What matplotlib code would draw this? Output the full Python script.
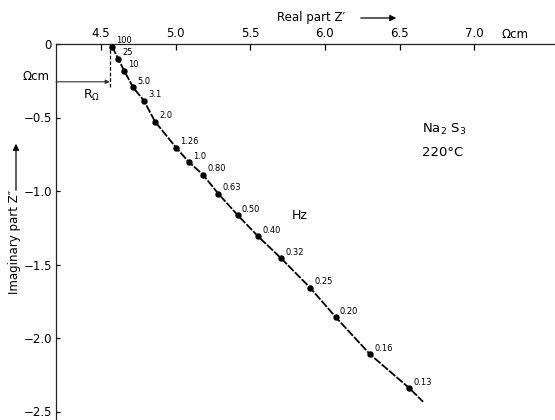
import matplotlib
matplotlib.use("Agg")
import matplotlib.pyplot as plt

# impedance points (Z' and Z'' in Ohm cm)
freq_labels = ["100", "25", "10", "5.0", "3.1", "2.0", "1.26", "1.0", "0.80",
               "0.63", "0.50", "0.40", "0.32", "0.25", "0.20", "0.16", "0.13"]
z_real = [4.576, 4.616, 4.656, 4.716, 4.788, 4.863, 5.004, 5.089, 5.183,
          5.286, 5.415, 5.553, 5.705, 5.901, 6.073, 6.303, 6.566]
z_imag = [-0.018, -0.101, -0.181, -0.295, -0.385, -0.528, -0.705, -0.803, -0.888,
          -1.018, -1.163, -1.309, -1.456, -1.658, -1.859, -2.112, -2.342]
tail_real = 6.657
tail_imag = -2.434

r_ohm = 4.56
r_ohm_y = -0.257

x_ticks = [4.5, 5.0, 5.5, 6.0, 6.5, 7.0]
x_tick_labels = ["4.5", "5.0", "5.5", "6.0", "6.5", "7.0"]
y_ticks = [0, -0.5, -1.0, -1.5, -2.0, -2.5]
y_tick_labels = ["0", "\u22120.5", "\u22121.0", "\u22121.5", "\u22122.0", "\u22122.5"]

plt.rcParams["font.family"] = ["DejaVu Sans"]

W, H = 555, 420
fig = plt.figure(figsize=(W / 100, H / 100), dpi=100)
ax = fig.add_axes([56 / W, 0, 1 - 56 / W, 1 - 44 / H])
ax.set_xlim(4.2, 7.54)
ax.set_ylim(-376 / 147, 0)

for side in ["right", "bottom"]:
    ax.spines[side].set_visible(False)
for side in ["top", "left"]:
    ax.spines[side].set_linewidth(0.9)
    ax.spines[side].set_color("#222222")

ax.xaxis.tick_top()
ax.set_xticks(x_ticks)
ax.set_xticklabels(x_tick_labels)
ax.set_yticks(y_ticks)
ax.set_yticklabels(y_tick_labels)
ax.tick_params(axis="x", direction="in", length=4, width=0.9, pad=3, labelsize=8.5)
ax.tick_params(axis="y", direction="in", length=3, width=0.9, pad=3, labelsize=8.5)

# curve and measured points
ax.plot(z_real + [tail_real], z_imag + [tail_imag], color="black", linewidth=1.3,
        dashes=(4.5, 0.9), zorder=2)
ax.plot(z_real, z_imag, "o", color="black", markersize=3.6, zorder=3)
for lab, xr, yi in zip(freq_labels, z_real, z_imag):
    ax.annotate(lab, (xr, yi), xytext=(3, 1), textcoords="offset points",
                fontsize=6, ha="left", va="bottom")

# R_Omega marker
ax.plot([r_ohm, r_ohm], [0, -0.29], color="black", linewidth=0.9, dashes=(3, 1.5))
ax.annotate("", xy=(r_ohm, r_ohm_y), xytext=(4.2, r_ohm_y),
            arrowprops=dict(arrowstyle="-|>", color="#333333", linewidth=0.8,
                            mutation_scale=6, shrinkA=0, shrinkB=0))
ax.text(4.44, -0.35, r"R$_\Omega$", fontsize=9, ha="center", va="center")

ax.text(5.83, -1.17, "Hz", fontsize=9, ha="center", va="center")
ax.text(6.65, -0.58, r"Na$_2$ S$_3$", fontsize=9.5, ha="left", va="center")
ax.text(6.65, -0.735, "220\u00b0C", fontsize=9.5, ha="left", va="center")

# axis titles with arrows, in figure coordinates
fig.text(277 / W, 1 - 17 / H, "Real part Z\u2032", fontsize=8.5, ha="left", va="center")
fig.add_artist(matplotlib.patches.FancyArrowPatch(
    (358 / W, 1 - 18 / H), (399 / W, 1 - 18 / H), transform=fig.transFigure,
    arrowstyle="-|>", mutation_scale=9, color="black", linewidth=0.9))
fig.text(515 / W, 1 - 35 / H, "\u03a9cm", fontsize=8.5, ha="center", va="center")
fig.text(36 / W, 1 - 76 / H, "\u03a9cm", fontsize=8.5, ha="center", va="center")

fig.text(15 / W, 1 - 242 / H, "Imaginary part Z\u2033", fontsize=8.5, rotation=90,
         ha="center", va="center")
fig.add_artist(matplotlib.patches.FancyArrowPatch(
    (16 / W, 1 - 193 / H), (16 / W, 1 - 141 / H), transform=fig.transFigure,
    arrowstyle="-|>", mutation_scale=9, color="black", linewidth=0.9))

fig.savefig("out.png", dpi=100)
